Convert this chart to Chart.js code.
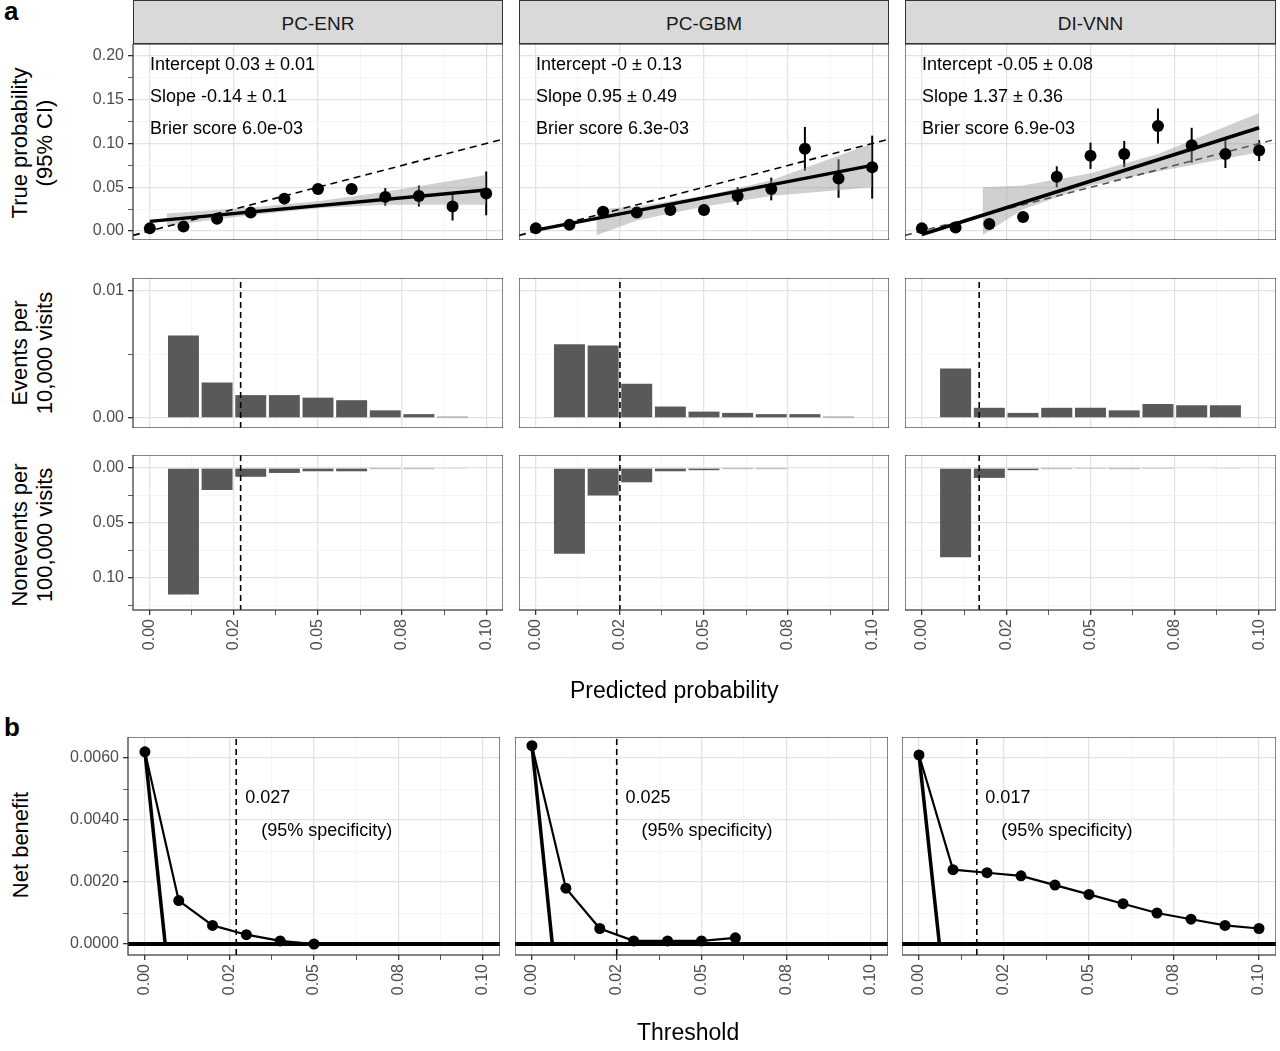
<!DOCTYPE html>
<html><head><meta charset="utf-8">
<script src="https://cdn.jsdelivr.net/npm/chart.js@4.4.0/dist/chart.umd.min.js"></script>
<style>
body{margin:0;background:#fff;font-family:"Liberation Sans",Arial,sans-serif;}
#wrap{position:relative;width:1280px;height:1051px;overflow:hidden;}
canvas{position:absolute;}
.t{position:absolute;white-space:nowrap;color:#000;}
.strip{position:absolute;top:0;height:44px;background:#d9d9d9;border:1px solid #333;box-sizing:border-box;text-align:center;line-height:46px;font-size:19px;color:#1a1a1a;}
.yt{position:absolute;font-size:22px;text-align:center;line-height:25px;transform:translate(-50%,-50%) rotate(-90deg);white-space:nowrap;}
.ann{position:absolute;font-size:18px;color:#000;}
</style></head><body>
<div id="wrap"></div>
<script>
// ---- data ----
const models = ['PC-ENR', 'PC-GBM', 'DI-VNN'];
const calX = [0, 0.01, 0.02, 0.03, 0.04, 0.05, 0.06, 0.07, 0.08, 0.09, 0.10];
const calY = [
  [0.003, 0.005, 0.014, 0.021, 0.037, 0.048, 0.048, 0.039, 0.040, 0.028, 0.043],
  [0.003, 0.007, 0.022, 0.021, 0.024, 0.024, 0.040, 0.048, 0.094, 0.060, 0.073],
  [0.003, 0.004, 0.008, 0.016, 0.062, 0.086, 0.088, 0.120, 0.098, 0.088, 0.092]
];
const calErr = [
  [0.001, 0.002, 0.003, 0.004, 0.005, 0.005, 0.006, 0.010, 0.012, 0.016, 0.025],
  [0.001, 0.002, 0.004, 0.004, 0.005, 0.006, 0.010, 0.013, 0.025, 0.022, 0.036],
  [0.001, 0.002, 0.003, 0.004, 0.012, 0.015, 0.015, 0.020, 0.020, 0.016, 0.012]
];
const fitX = [0, 0.1];
const fitY = [[0.011, 0.047], [0.001, 0.075], [-0.004, 0.118]];
const bandX = [
  [0.005, 0.03, 0.05, 0.07, 0.1],
  [0.018, 0.03, 0.05, 0.07, 0.1],
  [0.018, 0.03, 0.05, 0.07, 0.1]
];
const bandLo = [
  [0.006, 0.018, 0.026, 0.030, 0.030],
  [-0.005, 0.012, 0.028, 0.040, 0.050],
  [-0.005, 0.025, 0.052, 0.068, 0.090]
];
const bandHi = [
  [0.020, 0.027, 0.034, 0.045, 0.064],
  [0.025, 0.028, 0.040, 0.058, 0.100],
  [0.050, 0.052, 0.066, 0.088, 0.135]
];
const calText = [
  ['Intercept 0.03 \u00b1 0.01', 'Slope -0.14 \u00b1 0.1', 'Brier score 6.0e-03'],
  ['Intercept -0 \u00b1 0.13', 'Slope 0.95 \u00b1 0.49', 'Brier score 6.3e-03'],
  ['Intercept -0.05 \u00b1 0.08', 'Slope 1.37 \u00b1 0.36', 'Brier score 6.9e-03']
];
const binX = [0.01, 0.02, 0.03, 0.04, 0.05, 0.06, 0.07, 0.08, 0.09];
const events = [
  [0.0065, 0.0028, 0.0018, 0.0018, 0.0016, 0.0014, 0.0006, 0.0003, 0.0001],
  [0.0058, 0.0057, 0.0027, 0.0009, 0.0005, 0.0004, 0.0003, 0.0003, 0.0001],
  [0.0039, 0.0008, 0.0004, 0.0008, 0.0008, 0.0006, 0.0011, 0.0010, 0.0010]
];
const nonevents = [
  [0.115, 0.020, 0.008, 0.0045, 0.003, 0.003, 0.001, 0.001, 0.0005],
  [0.078, 0.025, 0.013, 0.003, 0.002, 0.001, 0.001, 0, 0],
  [0.081, 0.009, 0.002, 0.001, 0.001, 0.001, 0.0008, 0.0006, 0.0005]
];
const thresholds = [0.027, 0.025, 0.017];
const nbX = [
  [0, 0.01, 0.02, 0.03, 0.04, 0.05],
  [0, 0.01, 0.02, 0.03, 0.04, 0.05, 0.06],
  [0, 0.01, 0.02, 0.03, 0.04, 0.05, 0.06, 0.07, 0.08, 0.09, 0.10]
];
const nbY = [
  [0.0062, 0.0014, 0.0006, 0.0003, 0.0001, 0.0000],
  [0.0064, 0.0018, 0.0005, 0.0001, 0.0001, 0.0001, 0.0002],
  [0.0061, 0.0024, 0.0023, 0.0022, 0.0019, 0.0016, 0.0013, 0.0010, 0.0008, 0.0006, 0.0005]
];
const treatAllEnd = [0.006, 0.006, 0.006];
const xMajor = [0, 0.025, 0.05, 0.075, 0.1];
const xMajorLabels = ['0.00', '0.02', '0.05', '0.08', '0.10'];

// ---- layout ----
const cols = [[133, 503], [519, 889], [905, 1276]];
const colsB = [[128, 500], [515, 888], [902, 1276]];
const wrap = document.getElementById('wrap');
const AXW = 70;

function el(cls, html, style) {
  const d = document.createElement('div');
  d.className = cls; d.innerHTML = html; Object.assign(d.style, style);
  wrap.appendChild(d); return d;
}

const borderPlugin = {
  id: 'border',
  afterDraw(chart) {
    const a = chart.chartArea, c = chart.ctx;
    c.save(); c.strokeStyle = '#333'; c.lineWidth = 1.2;
    c.strokeRect(a.left, a.top, a.right - a.left, a.bottom - a.top); c.restore();
  }
};
const errPlugin = {
  id: 'err',
  beforeDatasetsDraw(chart, args, opts) {
    if (!opts.lo) return;
    const c = chart.ctx, xs = chart.scales.x, ys = chart.scales.y;
    c.save(); c.strokeStyle = '#000'; c.lineWidth = 2;
    opts.x.forEach((x, i) => {
      c.beginPath();
      c.moveTo(xs.getPixelForValue(x), ys.getPixelForValue(opts.lo[i]));
      c.lineTo(xs.getPixelForValue(x), ys.getPixelForValue(opts.hi[i]));
      c.stroke();
    });
    c.restore();
  }
};

function tickList(vals) { return s => { s.ticks = vals.map(v => ({value: v})); }; }
function near(v, arr) { return arr.some(m => Math.abs(m - v) < 1e-9); }
function isMajor(c, arr) { return c.tick && near(c.tick.value, arr); }
function noPad(s) { s.paddingTop = 0; s.paddingBottom = 0; s.paddingLeft = 0; s.paddingRight = 0; }

function xScale(showLabels) {
  const vals = [];
  for (let i = 0; i <= 8; i++) vals.push(i * 0.0125);
  return {
    type: 'linear', min: -0.005, max: 0.105, offset: false,
    afterBuildTicks: tickList(vals),
    afterFit: s => { s.height = showLabels ? 68 : 0; noPad(s); },
    grid: {offset: false, color: c => isMajor(c, xMajor) ? '#e3e3e3' : '#f3f3f3', lineWidth: c => isMajor(c, xMajor) ? 1.3 : 0.8,
           drawTicks: showLabels, tickLength: 5, tickColor: '#333'},
    border: {display: false},
    ticks: {display: showLabels, autoSkip: false, minRotation: 90, maxRotation: 90, color: '#4d4d4d',
            font: {size: 16, family: 'Liberation Sans'}, padding: 4,
            callback: v => { const i = xMajor.findIndex(m => Math.abs(m - v) < 1e-9); return i >= 0 ? xMajorLabels[i] : ''; }}
  };
}
function yScale(min, max, vals, majors, labels, showLabels, reverse) {
  return {
    type: 'linear', min, max, reverse: !!reverse,
    afterBuildTicks: tickList(vals),
    afterFit: s => { s.width = showLabels ? AXW : 0; noPad(s); },
    grid: {color: c => isMajor(c, majors) ? '#e3e3e3' : '#f3f3f3', lineWidth: c => isMajor(c, majors) ? 1.3 : 0.8,
           drawTicks: showLabels, tickLength: 5, tickColor: '#333'},
    border: {display: false},
    ticks: {display: showLabels, autoSkip: false, color: '#4d4d4d', font: {size: 16, family: 'Liberation Sans'}, padding: 4,
            callback: v => { const i = majors.findIndex(m => Math.abs(m - v) < 1e-9); return i >= 0 ? labels[i] : ''; }}
  };
}

// plot area l..r, t..b; axis sizes added outside
function make(l, r, t, b, withY, withX, config) {
  const left = withY ? l - AXW : l;
  const w = r - left;
  const h = b - t + (withX ? 68 : 0);
  const cv = document.createElement('canvas');
  cv.width = w; cv.height = h;
  cv.style.left = left + 'px'; cv.style.top = t + 'px';
  cv.style.width = w + 'px'; cv.style.height = h + 'px';
  wrap.appendChild(cv);
  config.options = Object.assign({responsive: false, animation: false, devicePixelRatio: 1,
    layout: {padding: 0, autoPadding: false}}, config.options);
  config.options.plugins = Object.assign({legend: {display: false}, tooltip: {enabled: false}}, config.options.plugins);
  config.plugins = [borderPlugin, errPlugin];
  new Chart(cv, config);
}
function vline(x, min, max, color) {
  return {type: 'line', data: [{x, y: min}, {x, y: max}], borderColor: color || '#000', borderWidth: 1.6, borderDash: [6, 4], pointRadius: 0};
}

models.forEach((m, k) => {
  const [l, r] = cols[k];
  const first = k === 0;
  el('strip', m, {left: l + 'px', width: (r - l) + 'px'});

  // row 1: calibration
  const y1 = [-0.0103, 0.2138];
  const y1vals = []; for (let i = 0; i <= 8; i++) y1vals.push(i * 0.025);
  const pts = calX.map((x, i) => ({x, y: calY[k][i]}));
  make(l, r, 44, 240, first, false, {
    type: 'line',
    data: {datasets: [
      {data: bandX[k].map((x, i) => ({x, y: bandLo[k][i]})), borderWidth: 0, pointRadius: 0, fill: false, order: 5},
      {data: bandX[k].map((x, i) => ({x, y: bandHi[k][i]})), borderWidth: 0, pointRadius: 0, fill: '-1', backgroundColor: 'rgba(150,150,150,0.45)', order: 4},
      {data: [{x: -0.005, y: -0.005}, {x: 0.105, y: 0.105}], borderColor: k === 2 ? '#555' : '#000', borderWidth: 1.6, borderDash: [7, 5], pointRadius: 0, order: 3},
      {data: fitX.map((x, i) => ({x, y: fitY[k][i]})), borderColor: '#000', borderWidth: 3.5, pointRadius: 0, order: 1},
      {data: pts, showLine: false, pointRadius: 6, pointBackgroundColor: '#000', pointBorderWidth: 0, order: 0}
    ]},
    options: {
      scales: {x: xScale(false), y: yScale(y1[0], y1[1], y1vals, [0, 0.05, 0.1, 0.15, 0.2], ['0.00', '0.05', '0.10', '0.15', '0.20'], first)},
      plugins: {err: {x: calX, lo: calY[k].map((v, i) => v - calErr[k][i]), hi: calY[k].map((v, i) => v + calErr[k][i])}}
    }
  });
  calText[k].forEach((t, i) => el('ann', t, {left: (l + 17) + 'px', top: (54 + i * 32) + 'px'}));

  // row 2: events
  const y2 = [-0.00079, 0.01102];
  make(l, r, 278, 428, first, false, {
    type: 'bar',
    data: {datasets: [
      {type: 'bar', data: binX.map((x, i) => ({x, y: events[k][i]})), backgroundColor: '#595959', barPercentage: 0.92, categoryPercentage: 1, order: 2},
      Object.assign(vline(thresholds[k], y2[0], y2[1]), {order: 1})
    ]},
    options: {scales: {x: xScale(false), y: yScale(y2[0], y2[1], [0, 0.005, 0.01], [0, 0.01], ['0.00', '0.01'], first)}}
  });

  // row 3: nonevents (reversed)
  const y3 = [-0.0118, 0.129];
  make(l, r, 455, 610, first, true, {
    type: 'bar',
    data: {datasets: [
      {type: 'bar', data: binX.map((x, i) => ({x, y: nonevents[k][i]})), backgroundColor: '#595959', barPercentage: 0.92, categoryPercentage: 1, order: 2},
      Object.assign(vline(thresholds[k], y3[0], y3[1]), {order: 1})
    ]},
    options: {scales: {x: xScale(true), y: yScale(y3[0], y3[1], [0, 0.025, 0.05, 0.075, 0.1, 0.125], [0, 0.05, 0.1], ['0.00', '0.05', '0.10'], first, true)}}
  });

  // panel b: net benefit
  const [lb, rb] = colsB[k];
  const yb = [-0.000355, 0.00668];
  const ybvals = []; for (let i = 0; i <= 6; i++) ybvals.push(i * 0.001);
  make(lb, rb, 737, 955, first, true, {
    type: 'line',
    data: {datasets: [
      vline(thresholds[k], yb[0], yb[1]),
      {data: [{x: -0.005, y: 0}, {x: 0.105, y: 0}], borderColor: '#000', borderWidth: 4, pointRadius: 0},
      {data: [{x: 0, y: nbY[k][0]}, {x: treatAllEnd[k], y: 0}], borderColor: '#000', borderWidth: 3.5, pointRadius: 0},
      {data: nbX[k].map((x, i) => ({x, y: nbY[k][i]})), borderColor: '#000', borderWidth: 2.2, pointRadius: 5.5, pointBackgroundColor: '#000', pointBorderWidth: 0}
    ]},
    options: {scales: {x: xScale(true), y: yScale(yb[0], yb[1], ybvals, [0, 0.002, 0.004, 0.006], ['0.0000', '0.0020', '0.0040', '0.0060'], first)}}
  });
  const tx = lb + 17 + (thresholds[k] + 0.005) * 3380;
  el('ann', thresholds[k].toFixed(3), {left: (tx - 8) + 'px', top: '787px'});
  el('ann', '(95% specificity)', {left: (tx + 8) + 'px', top: '820px'});
});

// titles
el('t', '<b>a</b>', {left: '4px', top: '-4px', fontSize: '26px'});
el('t', '<b>b</b>', {left: '4px', top: '712px', fontSize: '26px'});
el('yt', 'True probability<br>(95% CI)', {left: '32px', top: '143px'});
el('yt', 'Events per<br>10,000 visits', {left: '32px', top: '353px'});
el('yt', 'Nonevents per<br>100,000 visits', {left: '32px', top: '535px'});
el('yt', 'Net benefit', {left: '20px', top: '845px'});
el('t', 'Predicted probability', {left: '570px', top: '677px', fontSize: '23px'});
el('t', 'Threshold', {left: '637px', top: '1019px', fontSize: '23px'});
</script>
</body></html>
